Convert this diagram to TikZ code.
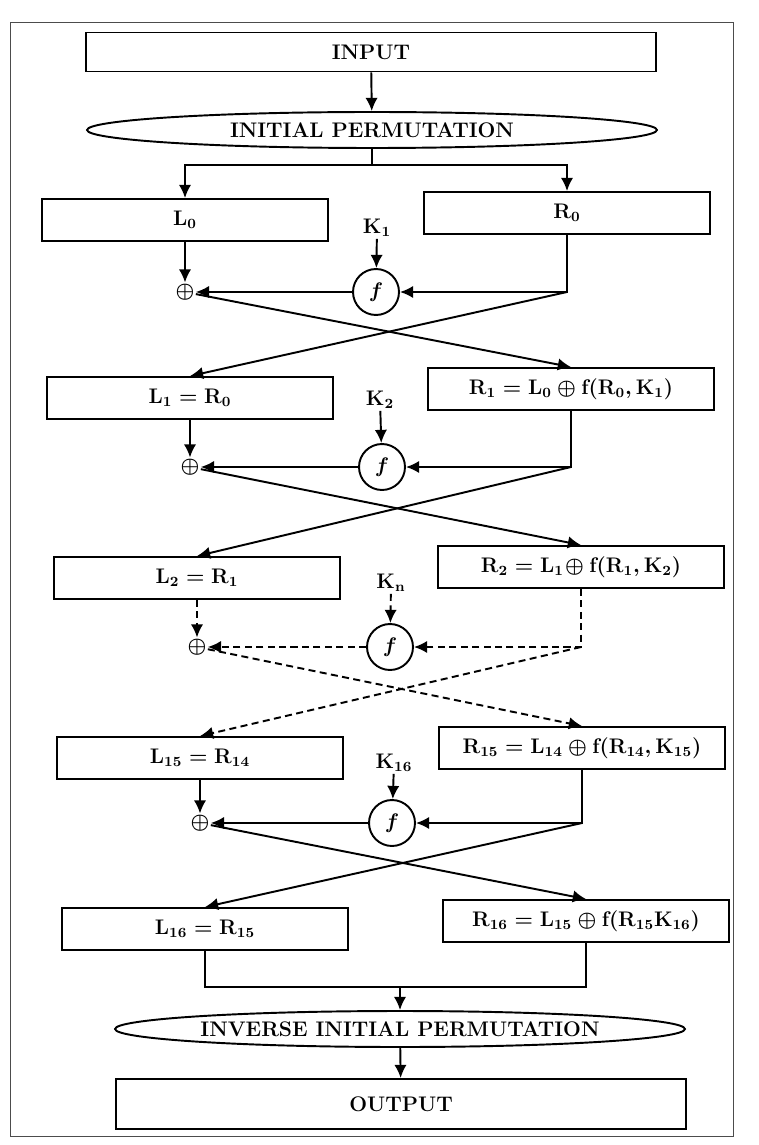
\documentclass[tikz,border=0pt]{standalone}
\usepackage{amsmath, amssymb}
\usetikzlibrary{shapes.geometric,arrows.meta,calc}
\tikzstyle{block} = [rectangle, minimum width=5.72cm, minimum height=0.84cm, text centered, draw=black, line width=1.1pt, inner sep=2pt]
\tikzstyle{wide} = [rectangle, minimum width=11.42cm, minimum height=0.78cm, text centered, draw=black, line width=1.1pt]
\tikzstyle{permute} = [ellipse, minimum width=11.4cm, minimum height=0.72cm, inner sep=0pt, text centered, draw=black, line width=1.1pt]
\tikzstyle{fcircle} = [circle, minimum size=0.92cm, inner sep=0pt, draw=black, line width=1.1pt]
\tikzstyle{xor} = [inner sep=0.6pt]
\tikzstyle{key} = [inner sep=1pt]
\tikzstyle{link} = [line width=1.1pt]
\tikzstyle{arrow} = [line width=1.1pt, -{Latex[length=7.5pt,width=7pt]}]
\tikzstyle{round2} = [dash pattern=on 4pt off 2.5pt]

\begin{document}
\begin{tikzpicture}[x=0.02cm, y=-0.02cm, font=\fontsize{12}{14}\selectfont\bfseries\boldmath]
      \useasboundingbox (0,0) rectangle (758,1145);
      \draw [line width=0.4pt, black!70] (10,22) rectangle (733,1136);
      \node (in)[wide] at (371,52) {INPUT};
      \node (ip)[permute] at (372,130) {INITIAL PERMUTATION};
      \draw [arrow](in)--(ip);
      \draw [link](ip.south)--++(0,16) coordinate (s);
      \node (L0)[block] at (185,220) {$\mathrm{L_0}$};
      \node (R0)[block] at (567,213) {$\mathrm{R_0}$};
      \draw [arrow](s)-|(L0.north);
      \draw [arrow](s)-|(R0.north);
      % round 1
      \node (K1)[key] at (377,228) {$\mathrm{K_1}$};
      \node (f1)[fcircle] at (376,292) {$f$};
      \node (x1)[xor] at (185,292) {$\oplus$};
      \coordinate (c1) at (R0.south |- f1);
      \draw [arrow](K1)--(f1);
      \draw [arrow](L0)--(x1);
      \draw [arrow](R0.south)|-(f1);
      \draw [arrow](f1)--(x1);
      \node (L1)[block] at (190,398) {$\mathrm{L_1 = R_0}$};
      \node (R1)[block] at (571,389) {$\mathrm{R_1 = L_0 \oplus f(R_0,K_1)}$};
      \draw [arrow](x1)--(R1.north);
      \draw [arrow](c1)--(L1.north);
      % round 2
      \node (K2)[key] at (380,400) {$\mathrm{K_2}$};
      \node (f2)[fcircle] at (382,467) {$f$};
      \node (x2)[xor] at (190,467) {$\oplus$};
      \coordinate (c2) at (R1.south |- f2);
      \draw [arrow](K2)--(f2);
      \draw [arrow](L1)--(x2);
      \draw [arrow](R1.south)|-(f2);
      \draw [arrow](f2)--(x2);
      \node (L2)[block] at (197,578) {$\mathrm{L_2 = R_1}$};
      \node (R2)[block] at (581,567) {$\mathrm{R_2 = L_1\!\oplus f(R_1,K_2)}$};
      \draw [arrow](x2)--(R2.north);
      \draw [arrow](c2)--(L2.north);
      % rounds 3 to 15
      \node (Kn)[key] at (391,583) {$\mathrm{K_n}$};
      \node (f3)[fcircle] at (390,647) {$f$};
      \node (x3)[xor] at (197,647) {$\oplus$};
      \coordinate (c3) at (R2.south |- f3);
      \draw [arrow, round2](Kn)--(f3);
      \draw [arrow, round2](L2)--(x3);
      \draw [arrow, round2](R2.south)|-(f3);
      \draw [arrow, round2](f3)--(x3);
      \node (L15)[block] at (200,758) {$\mathrm{L_{15} = R_{14}}$};
      \node (R15)[block] at (582,748) {$\mathrm{R_{15} = L_{14} \oplus f(R_{14},K_{15})}$};
      \draw [arrow, round2](x3)--(R15.north);
      \draw [arrow, round2](c3)--(L15.north);
      % round 16
      \node (K16)[key] at (394,763) {$\mathrm{K_{16}}$};
      \node (f4)[fcircle] at (392,823) {$f$};
      \node (x4)[xor] at (200,823) {$\oplus$};
      \coordinate (c4) at (R15.south |- f4);
      \draw [arrow](K16)--(f4);
      \draw [arrow](L15)--(x4);
      \draw [arrow](R15.south)|-(f4);
      \draw [arrow](f4)--(x4);
      \node (L16)[block] at (205,929) {$\mathrm{L_{16}= R_{15}}$};
      \node (R16)[block] at (586,921) {$\mathrm{R_{16}= L_{15} \oplus f(R_{15}K_{16})}$};
      \draw [arrow](x4)--(R16.north);
      \draw [arrow](c4)--(L16.north);
      % output
      \coordinate (m) at (400,987);
      \draw [link](L16.south)|-(m);
      \draw [link](R16.south)|-(m);
      \node (iip)[permute] at (400,1029) {INVERSE INITIAL PERMUTATION};
      \node (out)[wide, minimum height=1cm] at (401,1104) {OUTPUT};
      \draw [arrow](m)--(iip);
      \draw [arrow](iip)--(out);
    \end{tikzpicture}
\end{document}
